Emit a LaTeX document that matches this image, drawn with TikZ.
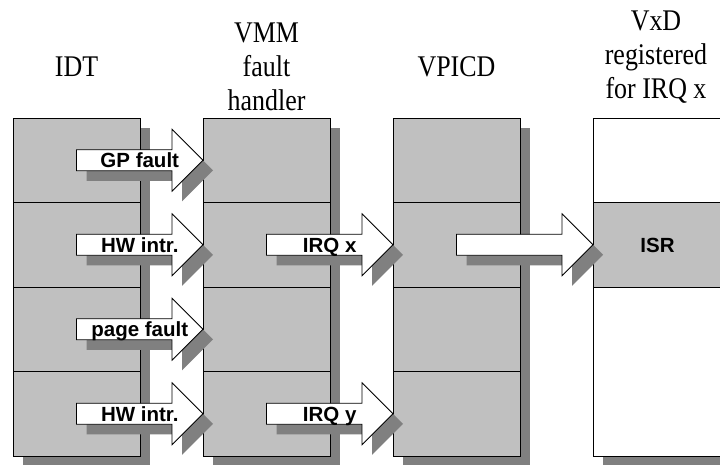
\documentclass[tikz,border=0pt]{standalone}
\usepackage{fontspec}
\setmainfont{Liberation Serif}
\setsansfont{Liberation Sans}
\newfontfamily\headfont[FakeStretch=0.865]{Liberation Serif}
\usetikzlibrary{shadows}

\definecolor{cellgray}{HTML}{C0C0C0}
\definecolor{shadegray}{HTML}{808080}

\tikzset{
  cell/.style={draw=black, line width=0.8pt, fill=cellgray, minimum width=127pt,
    minimum height=84.5pt, inner sep=0pt, outer sep=0pt, anchor=north west,
    drop shadow={shadow xshift=10pt, shadow yshift=-10pt, fill=shadegray, opacity=1, draw=none}},
  blankcell/.style={cell, fill=white},
  heading/.style={font=\headfont\fontsize{30}{34}\selectfont, align=center, anchor=base, inner sep=0pt},
  labeltext/.style={font=\sffamily\bfseries\fontsize{20.5}{24}\selectfont, text height=14.7pt, text depth=0pt},
  arrowbody/.style={draw=black, line width=0.8pt, fill=white, line join=miter},
  arrowshade/.style={fill=shadegray, transform canvas={shift={(10pt,-10pt)}}},
}

% block arrow from the middle of one cell to the left side of the next
\newcommand\blockpath[2]{([yshift=10.5pt]#1.center) -- ([xshift=-31pt,yshift=10.5pt]#2.west)
  -- ([xshift=-31pt,yshift=31pt]#2.west) -- (#2.west) -- ([xshift=-31pt,yshift=-31pt]#2.west)
  -- ([xshift=-31pt,yshift=-10.5pt]#2.west) -- ([yshift=-10.5pt]#1.center) -- cycle}
\newcommand\blockarrow[4]{%
  \fill[arrowshade] \blockpath{#1}{#2};
  \filldraw[arrowbody] \blockpath{#1}{#2};
  \path (#1.center) -- (#2.west) node[midway, labeltext, inner sep=0pt] (#3) {#4};
}

\begin{document}
\begin{tikzpicture}[x=1pt, y=-1pt]
    \useasboundingbox (0,0) rectangle (720,464);

    % headings (base = last line)
    \node[heading] (idthead) at (76.5,76) {IDT};
    \node[heading] (vmmhead) at (266.5,110) {VMM\\fault\\handler};
    \node[heading] (vpicdhead) at (456.5,76) {VPICD};
    \node[heading] (vxdhead) at (656,98.5) {VxD\\registered\\for IRQ x};

    % tables
    \foreach \col/\x in {idt/13, vmm/203, vpicd/393}
      \foreach \r in {1,...,4}
        \node[cell] (\col\r) at (\x, {118+84.5*(\r-1)}) {};

    \node[blankcell, minimum width=129pt] (vxdtop) at (593,118) {};
    \node[cell, minimum width=129pt, labeltext] (isr) at (593,202.5) {ISR};
    \node[blankcell, minimum width=129pt, minimum height=169pt] (vxdbottom) at (593,287) {};

    % interrupt paths
    \blockarrow{idt1}{vmm1}{gpfault}{GP fault}
    \blockarrow{idt2}{vmm2}{hwintra}{HW intr.}
    \blockarrow{idt3}{vmm3}{pagefault}{page fault}
    \blockarrow{idt4}{vmm4}{hwintrb}{HW intr.}
    \blockarrow{vmm2}{vpicd2}{irqx}{IRQ x}
    \blockarrow{vmm4}{vpicd4}{irqy}{IRQ y}
    \blockarrow{vpicd2}{isr}{toisr}{}
\end{tikzpicture}
\end{document}
